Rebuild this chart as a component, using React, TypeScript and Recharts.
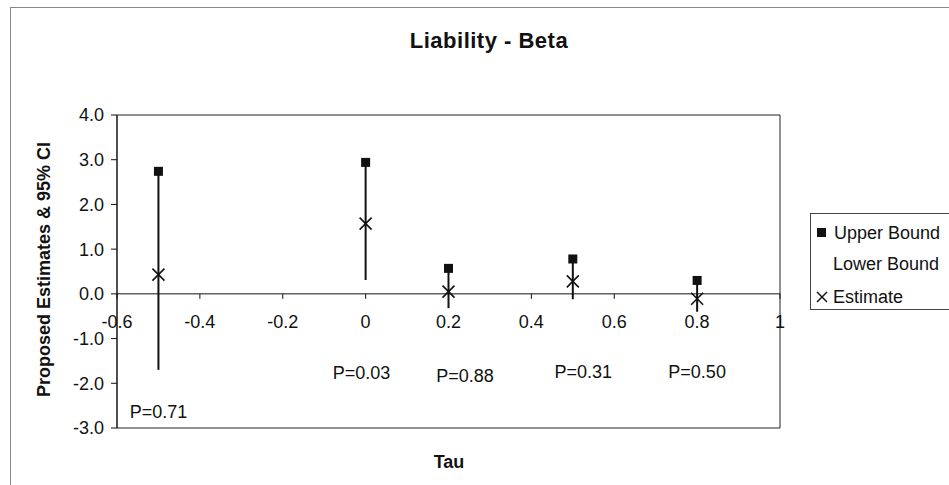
import React from "react";
import {
  ErrorBar,
  ReferenceArea,
  ReferenceDot,
  ReferenceLine,
  Scatter,
  ScatterChart,
  XAxis,
  YAxis,
} from "recharts";

const TAU = [-0.5, 0, 0.2, 0.5, 0.8];
const UPPER = [2.74, 2.94, 0.57, 0.78, 0.3];
const LOWER = [-1.7, 0.31, -0.32, -0.12, -0.4];
const ESTIMATE = [0.43, 1.57, 0.05, 0.28, -0.11];

const X_TICKS = [-0.6, -0.4, -0.2, 0, 0.2, 0.4, 0.6, 0.8, 1];
const Y_TICKS = [-3, -2, -1, 0, 1, 2, 3, 4];

// p-value annotations, anchored in data units
const P_TEXT = ["P=0.71", "P=0.03", "P=0.88", "P=0.31", "P=0.50"];
const P_TAU = [-0.5, -0.01, 0.24, 0.525, 0.8];
const P_Y = [-2.64, -1.77, -1.83, -1.74, -1.74];

const FONT = '"Liberation Sans", Arial, sans-serif';
const INK = "#111";

const upperData = TAU.map((tau, i) => ({ tau, value: UPPER[i] }));
const estimateData = TAU.map((tau, i) => ({ tau, value: ESTIMATE[i] }));
// lower bound point carries the whisker up to the upper bound
const lowerData = TAU.map((tau, i) => ({
  tau,
  value: LOWER[i],
  span: [0, UPPER[i] - LOWER[i]],
}));

const SquareMark = (p: any) => (
  <rect x={p.cx - 4.5} y={p.cy - 4.5} width={9} height={9} fill={INK} />
);

const CrossMark = (p: any) => (
  <g stroke={INK} strokeWidth={1.6}>
    <line x1={p.cx - 6} y1={p.cy - 6} x2={p.cx + 6} y2={p.cy + 6} />
    <line x1={p.cx - 6} y1={p.cy + 6} x2={p.cx + 6} y2={p.cy - 6} />
  </g>
);

const NoMark = () => <g />;

// x axis crosses at y = 0, so ticks hang off the zero line
const ZeroAxisTick = (label: string) => (p: any) => (
  <g>
    <line x1={p.cx} y1={p.cy} x2={p.cx} y2={p.cy + 5} stroke={INK} />
    <text x={p.cx} y={p.cy + 34} textAnchor="middle" fontSize={18} fill={INK} fontFamily={FONT}>
      {label}
    </text>
  </g>
);

const NoteText = (label: string) => (p: any) => (
  <text x={p.cx} y={p.cy + 6} textAnchor="middle" fontSize={18} fill={INK} fontFamily={FONT}>
    {label}
  </text>
);

function LegendBox() {
  const row: React.CSSProperties = {
    position: "absolute",
    fontSize: 18,
    lineHeight: "20px",
    whiteSpace: "nowrap",
  };
  return (
    <div
      style={{
        position: "absolute",
        left: 810,
        top: 213,
        width: 200,
        height: 95,
        border: "1px solid #444",
        background: "#fff",
      }}
    >
      <div style={{ ...row, left: 6, top: 9 }}>
        <span style={{ display: "inline-block", width: 9, height: 9, background: INK, marginRight: 8, verticalAlign: 2 }} />
        Upper Bound
      </div>
      <div style={{ ...row, left: 22, top: 40 }}>Lower Bound</div>
      <div style={{ ...row, left: 4, top: 73 }}>
        <svg width={14} height={14} style={{ marginRight: 4, verticalAlign: -1 }}>
          <line x1={2} y1={2} x2={12} y2={12} stroke={INK} strokeWidth={1.4} />
          <line x1={2} y1={12} x2={12} y2={2} stroke={INK} strokeWidth={1.4} />
        </svg>
        Estimate
      </div>
    </div>
  );
}

export default function App() {
  return (
    <div
      style={{
        position: "absolute",
        left: 0,
        top: 0,
        width: 949,
        height: 485,
        overflow: "hidden",
        background: "#fff",
        fontFamily: FONT,
        color: INK,
      }}
    >
      <div
        style={{
          position: "absolute",
          left: 10,
          top: 7,
          width: 1000,
          height: 600,
          border: "1px solid #888",
        }}
      />
      <div
        style={{
          position: "absolute",
          left: 289,
          width: 400,
          top: 28,
          textAlign: "center",
          fontSize: 22,
          fontWeight: "bold",
          letterSpacing: 0.5,
        }}
      >
        Liability - Beta
      </div>

      <ScatterChart
        width={949}
        height={485}
        margin={{ top: 115, right: 169, bottom: 57, left: 47 }}
        style={{ position: "absolute", left: 0, top: 0 }}
      >
        <XAxis
          type="number"
          dataKey="tau"
          domain={[-0.6, 1]}
          ticks={X_TICKS}
          hide
          height={0}
          allowDataOverflow
        />
        <YAxis
          type="number"
          dataKey="value"
          domain={[-3, 4]}
          ticks={Y_TICKS}
          width={70}
          allowDataOverflow
          interval={0}
          tickFormatter={(v: number) => v.toFixed(1)}
          tick={{ fontSize: 18, fill: INK, fontFamily: FONT }}
          axisLine={{ stroke: INK }}
          tickLine={{ stroke: INK }}
          tickSize={6}
          tickMargin={7}
        />
        <ReferenceArea x1={-0.6} x2={1} y1={-3} y2={4} fill="none" fillOpacity={0} stroke="#222" />
        <ReferenceLine y={0} stroke={INK} strokeWidth={1} />
        {X_TICKS.map((t) => (
          <ReferenceDot
            key={`xt${t}`}
            x={t}
            y={0}
            r={0}
            ifOverflow="visible"
            shape={ZeroAxisTick(String(t))}
          />
        ))}

        <Scatter name="Lower Bound" data={lowerData} shape={NoMark} isAnimationActive={false}>
          <ErrorBar dataKey="span" direction="y" width={0} stroke={INK} strokeWidth={2} isAnimationActive={false} />
        </Scatter>
        <Scatter name="Upper Bound" data={upperData} shape={SquareMark} isAnimationActive={false} />
        <Scatter name="Estimate" data={estimateData} shape={CrossMark} isAnimationActive={false} />

        {P_TEXT.map((label, i) => (
          <ReferenceDot
            key={label}
            x={P_TAU[i]}
            y={P_Y[i]}
            r={0}
            ifOverflow="visible"
            shape={NoteText(label)}
          />
        ))}
      </ScatterChart>

      <div
        style={{
          position: "absolute",
          left: 349,
          width: 200,
          top: 452,
          textAlign: "center",
          fontSize: 18,
          fontWeight: "bold",
        }}
      >
        Tau
      </div>
      <div
        style={{
          position: "absolute",
          left: 44 - 160,
          top: 270 - 11,
          width: 320,
          textAlign: "center",
          fontSize: 18,
          fontWeight: "bold",
          transform: "rotate(-90deg)",
          whiteSpace: "nowrap",
        }}
      >
        Proposed Estimates &amp; 95% CI
      </div>

      <LegendBox />
    </div>
  );
}
